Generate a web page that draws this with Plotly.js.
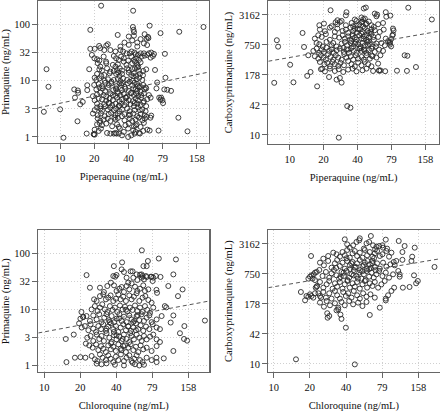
<!DOCTYPE html>
<html>
<head>
<meta charset="utf-8">
<script src="https://cdn.plot.ly/plotly-3.0.1.min.js"></script>
<style>
html,body{margin:0;padding:0;background:#fff;}
#chart{width:440px;height:412px;}
</style>
</head>
<body>
<div id="chart"></div>
<script>
// ---------- tick definitions ----------
const drugTickVals = [10, 19.95, 39.81, 79.43, 158.5];
const drugTickText = ['10', '20', '40', '79', '158'];
const pqTickVals = [1, 3.162, 10, 31.62, 100];
const pqTickText = ['1', '3', '10', '32', '100'];
const cpqTickVals = [10, 42.17, 177.8, 749.9, 3162];
const cpqTickText = ['10', '42', '178', '750', '3162'];

// ---------- data: [drug ng/mL, metabolite ng/mL] ----------
const pipPrimaquine = [
[22.9,215],[43.7,175],[18.4,80],[61,95],[32,65],[43.5,90],[44,80],[44.5,73],[76,70],[111,74],[181,90],[7.6,16],[7.9,7.8],[7.2,2.8],[10,3.1],[10.7,0.97],[14.2,1.9],[13.3,7.0],[14.3,6.7],[14.4,6.1],[13.5,5.0],[15,3.8],[15.8,4.2],[17.3,8.3],[17.3,6.8],[18,16],[17.1,1.15],[19.8,1.12],[131,1.26],[109,2.2],[73,1.3],[61,1.3],[83,30],[84,11.3],[68,15.5],[71,9.3],[82,7],[87,6.9],[94,6.6],[80,4],[77,5],[74,5],[70,7.3],[76,4.6],[79,4.5],[63,2.4],[62,2.2],[58,43],[59,60],[59.5,57],
[18.4,36.8],[20.1,36.8],[22.5,38],[24.4,35],[27.6,35],[30.6,33],[33.8,35],[35.7,33],[38.2,30.6],[40.8,30.6],[42.4,33],[45,31.6],[46,29.4],[48.2,28.7],[50.8,30.6],[54.3,30.6],[60.1,30.6],[63,31.6],[66.6,29.8],
[19,28.7],[20,25],[21.1,24],[22.1,22.8],[24.1,26.8],[25.3,21.8],[29.6,27.5],[31,25],[32.7,23.4],[34.3,26.8],[36.2,25],[39.5,22.8],[42.1,26.8],[44.4,23.4],[46.6,25],[49.2,23.4],[51.9,26.8],[55.1,27.9],[58.2,28.7],[62.2,25.7],[65.2,27.5],
[21.4,20.4],[22.5,17.8],[25.4,20.4],[29,19.1],[30.6,17.8],[32.1,19.6],[36.2,21.8],[38.2,19.1],[42.9,20.4],[45.3,21.8],[47.5,19.1],[48.5,17.8],[50.8,21.2],
[22.1,15.9],[23.3,15.1],[25.8,16.6],[27.6,14.5],[29.6,14.9],[31.6,15.5],[33.4,16.6],[34.9,15.1],[38.7,16.6],[40,15.5],[42.9,16.1],[45.3,16.6],[47.5,17.1],[49.2,15.1],[53.6,14.9],[56.9,15.9],
[20.1,11.3],[21.1,13.2],[23,12.1],[24.4,12.6],[27.2,13.5],[31,13.2],[32.3,13.9],[33.2,12.1],[34.9,13.2],[40,13.9],[42.1,12.6],[44.4,13.5],[46.6,12.1],[50.1,13.2],[53.3,12.5],
[20.8,10.3],[22.1,11],[24.6,10],[26.3,10.6],[28.2,9.6],[29.6,10.3],[32.1,10.7],[33.8,9.85],[35.7,11],[38.7,10.3],[40.8,9.6],[43.5,10],[46.9,10.6],[49.5,11.3],[52.6,10.3],
[19.9,8.4],[21.8,8.7],[23.3,8],[24.9,9.2],[26.7,8.4],[28.2,9],[31.2,8],[33.2,9],[34.5,8.4],[36.7,7.8],[39.2,9],[42.9,8.25],[45,9.2],[47.5,8.7],[50.1,8],[53.6,8.4],[56.2,7.6],
[20.8,7],[22.1,7.6],[23.6,7.3],[24.9,6.6],[26.2,7.5],[29.2,6.8],[31,7.3],[32.1,6.35],[34.9,6.8],[37.4,7.2],[40,6.6],[43.8,7.3],[46,7],[47.5,6.6],[49.2,7.6],[50.8,6.35],[55.1,7],[56.9,7.3],
[19.4,5.3],[21.1,5.7],[22.5,6.1],[24.1,5.55],[25.4,5.2],[27.6,5.95],[30.6,5.4],[32.1,5.95],[33.8,5.5],[36.2,5.8],[38.7,5.2],[42.1,6.1],[44.4,5.55],[46.6,5.95],[48.5,5.3],[51.5,5.55],[54.3,5.95],[60.1,5.55],
[20.1,4.5],[21.8,4.83],[23.3,4.65],[25.4,4.4],[27.2,4.83],[29,4.5],[31.6,5.0],[33.2,4.33],[34.9,4.7],[37.4,5.0],[40,4.5],[43.5,4.33],[46,4.83],[48.2,4.5],[51.5,5],[54.3,4.33],[58.2,4.7],[62.2,5],
[21.1,3.9],[22.5,3.53],[24.4,3.83],[26.7,4.05],[28.6,3.68],[30.6,3.9],[32.7,3.53],[34.3,3.9],[36.7,3.68],[38.2,4.05],[41.5,3.83],[44.4,3.53],[47.5,3.9],[50.8,3.68],[53.6,4.05],[56.9,3.53],
[20.1,3.0],[21.1,3.34],[22.5,3.2],[23.3,2.91],[26.2,3.08],[27.6,3.34],[29.6,3],[31,3.2],[33.2,2.87],[34.9,3.08],[38.7,3.2],[40.8,2.87],[45,3],[48.2,3.34],[52.6,3.08],[56.2,2.87],
[19.4,2.61],[21.4,2.44],[22.8,2.61],[24.6,2.34],[26.7,2.54],[28,2.68],[30.6,2.44],[32.1,2.61],[34.9,2.34],[36.7,2.54],[40,2.44],[43.8,2.61],[47.5,2.34],[50.8,2.54],[55.1,2.44],[57.3,2.28],
[21.4,2.13],[22.5,1.93],[24.1,2.04],[26.2,2.13],[27.6,1.93],[30.6,2.04],[32.1,2.18],[36.7,1.98],[40.8,2.13],[42.9,1.93],[46,2.04],[49.2,2.21],[52.6,1.98],[55.4,2.13],
[21.1,1.68],[22.2,1.78],[23.3,1.62],[25.4,1.73],[28.6,1.55],[31.6,1.68],[32.7,1.51],[37.4,1.62],[40,1.73],[44.4,1.55],[46.9,1.68],[50.8,1.51],[54.3,1.78],
[20.1,1.35],[21.8,1.28],[22.8,1.41],[25.8,1.18],[30.6,1.18],[33.4,1.41],[36.2,1.23],[39.5,1.41],[43.8,1.31],[46,1.23],[49.2,1.18],[53.6,1.28],[58.2,1.35],
[19.7,1.12],[20.1,1.10],[27.6,1.15],[29.6,1.15],[31.2,1.15],[32.7,1.15],[34.9,1.07],[39.5,1.0],[42.1,1.07],[45,1.15],[50.1,1.15],
[40,61],[44.4,63],[55.1,67],[57.3,55.5],[47.5,47.6],[42.9,52],[40,43.3],[33.8,40.4],[26.2,44.4],[25.4,42],[22,41.5],[47.5,40.4],[54.3,46],[36.7,47.6],[50.8,54.8],
[42,6],[45,4],[48,8],[44,12],[38,5],[33,3.6],[30,2.2],[27,4],[41,2.5],[46,1.6],[50,3],[35,9],[31,7],[25,3.5],[29,5.5]
];

const pipCarboxy = [
[112,4470],[181,2540],[47.2,4500],[45.3,4300],[23,3950],[31.8,3600],[31.4,3100],[70.8,3600],[71.6,2900],[77.8,3060],[13,1330],[7.7,940],[7.9,690],[13.4,680],[14.6,457],[10.1,290],[10.8,125],[7.3,122],[14.3,170],[15.3,205],[17.5,103],[19.4,240],[32.3,40],[34.5,37],[27.2,8.8],[89,218],[109,216],[131,260],[104,457],[110,445],[81,1170],[82,1240],[77,830],[77,760],[63.7,220],[61.8,218],[70,213],[82,1640],[83,1500],[79,990],[77,880],[79,700],
[37.7,2540],[43.2,2800],[44.7,2570],[46.2,2655],[56.6,3370],[58.6,2960],[59.4,3210],[26.5,2450],[27.8,2260],
[18.3,1928],[20.1,2085],[23.5,1840],[25.5,2220],[26.4,2020],[28.8,2370],[31.4,1928],[35.3,2150],[36.5,1840],[39,2370],[41.3,2020],[43.2,2220],[44.7,1840],[47.8,2085],[50.2,2300],[52.9,1928],[55.5,1778],[60.6,2020],[67,2150],
[18.5,1565],[20.5,1450],[22.7,1720],[25.1,1400],[26.4,1641],[29.4,1470],[31.4,1565],[32.9,1340],[34.6,1720],[36.5,1470],[37.7,1641],[39.4,1360],[41.8,1565],[44.1,1400],[46.2,1690],[48.8,1470],[50.2,1340],[52.9,1590],[56.6,1517],[62.7,1400],[67.9,1565],
[16.7,1016],[17.9,1192],[19.2,1101],[20.9,1260],[22.7,960],[25.1,1130],[27.4,1065],[29.4,1192],[30.8,1016],[32.9,1130],[34.1,960],[36,1240],[37.7,1065],[39,960],[41.3,1192],[43.2,1016],[45.3,1130],[47.8,960],[50.2,1065],[52.9,1260],[55.5,960],[60.6,1101],[70.8,1016],
[17.3,823],[18.3,775],[19.6,696],[21.2,866],[23.5,735],[24.3,823],[26,696],[28.8,800],[30.8,866],[32.2,735],[34.6,823],[36.5,696],[38.5,866],[40.4,775],[42.4,696],[44.1,823],[46.2,735],[48.8,866],[51.2,775],[54,696],[58.6,800],[64.8,823],[69.4,735],[74.2,900],
[16.2,563],[17.3,629],[18.2,513],[19.2,600],[20.1,536],[21.2,658],[22.3,563],[23.5,609],[24.6,513],[26,581],[27.8,629],[30.2,536],[31.8,600],[33.5,513],[35.3,648],[37,563],[39,513],[41.3,629],[43.2,563],[45.6,600],[47.8,513],[50.2,581],[52.9,629],[56.6,536],[61.8,600],[67,563],
[16.7,436],[17.9,389],[18.9,457],[19.9,409],[20.9,370],[21.9,482],[23,422],[24.3,370],[25.6,457],[26.9,409],[28.8,370],[30.4,482],[31.8,409],[34.6,436],[36.5,370],[38.5,457],[40.4,389],[43.2,422],[45.3,370],[47.8,457],[51.2,389],[54,436],[58.6,409],[63.5,457],
[18.5,332],[20.3,297],[21.5,317],[22.7,269],[24,332],[25.1,297],[26.9,274],[28.2,317],[30.2,283],[32.9,347],[35.3,297],[37.7,269],[40.4,322],[43.2,283],[46.2,332],[49.5,297],[52.9,269],[60.6,306],
[18.9,234],[20.5,211],[22.7,241],[25.1,215],[27.2,234],[29.8,205],[32.9,230],[36,241],[39,211],[44.1,222],[47.8,241],[54.7,215],[61.8,222],
[22.3,161],[27.8,154],[28.8,123],[26,142],
[40,1600],[43,1300],[45,1000],[48,1200],[50,900],[52,1400],[38,800],[42,640],[46,560],[35,900],[33,600],[30,650],[55,1100],[58,700],[47,2000],[44,2300],[39,1900],[36,1150],[49,750],[53,450]
];

const cqPrimaquine = [
[65,115],[90,82],[125,79],[73,74],[67,60],[44.5,70],[38,60],[119,42.7],[85,40],[93,38.5],[22.5,41.5],[24,24.7],[26,15.3],[142,23],[130,17.5],[108,26.5],[86,22.6],[87,20],[101,11.6],[104,11],[119,7.9],[113,5.9],[147,5.1],[135,3.8],[146,3],[155,2.8],[218,6.4],[119,1.83],[99,1.35],[86,1.39],[15.1,3.0],[18,1.39],[15.3,1.16],[20,1.42],[22,1.39],[17.6,3.6],[19.5,5.7],[20,6.9],[21.1,7.4],[20.4,9.1],[22.2,2.48],
[52.4,48.4],[54.4,48.4],[40,41.6],[39,38.8],[62.7,42.2],[64.7,42.7],[65.9,39.9],[70.4,39.9],[71.3,38.3],[78.4,38.8],[80.9,37.3],
[44.1,52.5],[46.1,47.1],[48.5,37.3],[50.1,30.4],[55.2,37.3],[58.8,42.7],[59.6,33.9],[64.7,37.3],[67.7,34.8],[71.3,60],[77.2,38.8],[80,32.5],[37.6,39.9],
[29.1,24.7],[31.4,20.7],[33.5,26.5],[35.9,30.4],[38.1,27.2],[40,21.6],[42.2,23.7],[44.1,25.4],[46.1,20.7],[48.5,26.5],[51.1,23.1],[53.4,29.5],[57,25.7],[59.6,21.6],[62.7,23.7],[66.8,27.2],[69,21.6],[73.6,23.1],
[27.3,14.3],[29.1,17.5],[31,18.8],[32.6,15.3],[34.1,16.4],[35.7,18],[37.6,14.3],[39.5,15.7],[41.4,18.8],[43.3,15.3],[45.5,17.1],[47.9,14.3],[51.1,18],[53.4,15.3],[55.8,17.1],[58.8,19.6],[61.9,14.3],[65.9,16.4],[69.5,17.5],[73.6,14.9],[78.4,13.3],
[24.8,10.1],[26.4,11.6],[27.8,9.5],[29.1,10.9],[30.4,12.5],[32,10.1],[33.5,9.1],[35.2,11.6],[37.1,9.9],[38.8,10.9],[40.6,9.1],[42.7,11.9],[45,10.1],[47,11.3],[49.2,9.3],[51.7,10.9],[54.4,9.9],[57,11.9],[59.6,9.5],[62.7,10.9],[65.9,9.1],[69,11.6],[72.2,9.9],[76,8.8],[80.9,10.9],
[21.1,7.4],[22.5,7.7],[24,6.3],[25.6,7.9],[27.3,6.7],[28.7,8.3],[30,6.0],[31.6,7.2],[33,8.3],[34.6,6.5],[36.4,7.7],[38.3,6.0],[40,6.9],[42.2,8.3],[44.1,6.3],[46.1,7.5],[48.5,6.0],[51.1,7.9],[53.4,6.7],[56.2,6.3],[58.8,7.7],[61.9,6.5],[64.7,8.3],[67.7,6.3],[71.3,7.2],[75,7.9],[78.4,6.0],[86.3,6.7],[95,7.7],
[20.5,4.8],[21.8,5.1],[23.3,4.3],[24.3,5.5],[25.6,4.6],[27,4.0],[28.2,5.1],[29.7,4.5],[31,5.5],[32.6,4.2],[34.1,5.0],[35.9,5.7],[37.6,4.5],[39.5,5.1],[41.4,4.0],[43.3,4.8],[45.5,5.5],[47.9,4.3],[50.1,5.1],[52.7,4.2],[55.2,4.8],[58,5.7],[60.7,4.5],[63.5,5.25],[66.8,4.2],[70.4,5.0],[75,4.5],[80,5.5],[86.3,4.8],[92,4.5],
[22.8,3.16],[24.3,3.4],[25.6,2.76],[27.3,3.6],[28.7,3.0],[30,3.4],[31.4,2.76],[33,3.8],[34.8,3.16],[36.4,2.65],[38.1,3.5],[40,2.95],[42.2,3.3],[44.1,2.76],[46.1,3.6],[48.5,3.0],[51.1,2.65],[53.4,3.4],[55.8,2.95],[58.8,3.6],[61.9,3.16],[64.7,2.76],[67.7,3.4],[71.3,2.95],[76,3.3],[80.9,3.6],[86.3,2.95],[92,2.65],
[23.7,2.3],[25.3,2.1],[27,2.4],[28.2,1.9],[29.7,2.24],[31,2.01],[32.6,1.75],[34.1,2.3],[35.9,1.96],[37.6,2.18],[39.5,1.83],[41.4,2.4],[43.3,2.01],[45.5,2.24],[47.9,1.75],[50.1,2.1],[52.4,2.4],[55.2,1.9],[58,2.18],[60.7,1.75],[63.5,2.3],[66.8,1.96],[71.3,2.1],[78.4,1.83],[86.3,2.24],
[24.8,1.49],[26.4,1.3],[27.7,1.21],[29.1,1.59],[30.6,1.39],[32.6,1.26],[34.1,1.53],[35.7,1.33],[37.6,1.16],[39.5,1.45],[41.4,1.26],[43.5,1.59],[46.1,1.21],[48.5,1.39],[51.1,1.53],[53.4,1.21],[56.2,1.33],[58.8,1.53],[62.7,1.26],[65.9,1.16],[71.3,1.39],[78.4,1.26],[86.3,1.16],
[27.3,1.09],[30,1.06],[33,1.1],[38.8,1.04],[46.1,1.01],[54.4,1.13],[57,1.06],[61.9,1.01],[67.7,1.04],
[40,3.5],[45,3],[50,5],[42,7],[38,4],[55,6],[48,10],[36,2.5],[44,1.9],[52,3.8],[47,2.3],[58,4.3],[35,6],[33,4.6],[60,8]
];

const cqCarboxy = [
[15.3,12.5],[47.1,9.8],[39.7,57],[62.7,105],[27.8,114],[28,92],[28.9,100],[33.2,131],[34.3,137],[35.8,107],[36.5,87],[75.9,149],[85.1,230],[20.4,1778],[64,4640],[51.2,3770],[51.8,4150],[85.1,3890],[109,3650],[122,2870],[148,2650],[117,2150],[141,1720],[117,1480],[139,1400],[216,1050],[146,703],[157,536],[152,480],[134,402],[118,389],[99.8,389],[94.8,332],[88.9,270],[85.1,211],[104,1400],[99,1333],[101,1136],[111,738],[111,659],[108,866],
[16.8,316],[18.2,212],[18.7,261],[19.4,253],[20,283],[20.6,261],[21.3,241],[19.4,600],[20,659],[20.6,703],[21.5,738],[22.7,826],[23.9,908],[21,600],[22,560],[22.3,389],[23.5,297],[24.7,241],[22.9,422],
[40.7,3110],[42.8,2650],[45.6,2970],[48.6,3480],[56,2530],[58.9,3260],[61.9,3480],[66.8,2970],[69.4,2450],[71.2,2780],[74.9,2870],[79.8,2970],[80.8,2650],[87.3,2530],[38.9,3950],
[25.8,1565],[28.3,1778],[31.2,2085],[33.2,1930],[35.4,1720],[37.2,2150],[38.9,1840],[40.7,2370],[42.8,1640],[45.1,2020],[47.1,2260],[49.2,1778],[51.8,2085],[54.5,1640],[57,2370],[59.6,1840],[62.7,2150],[66,1720],[69,2020],[72.1,2260],[75.9,1778],[79.8,1930],[86.1,2260],[90.6,1720],[94.8,2085],
[24.2,1292],[26.1,1136],[28.3,1400],[30.2,1016],[32.2,1250],[33.6,1470],[35.4,1101],[37.2,1292],[38.9,968],[40.7,1400],[42.8,1136],[45.1,1333],[47.1,1016],[49.2,1250],[51.8,1470],[54.5,1101],[57,1292],[59.6,968],[62.7,1192],[66,1400],[69,1066],[72.1,1250],[75.9,968],[80.8,1292],[86.1,1066],[93,1192],
[22,800],[25.4,681],[27.1,826],[28.9,629],[30.2,775],[31.6,908],[33.2,703],[34.9,600],[36.5,826],[38.2,681],[40.2,866],[42.3,629],[44.2,738],[46.2,908],[48.6,681],[51.2,800],[53.5,600],[56,738],[58.9,866],[61.9,659],[64.8,800],[67.6,629],[71.2,738],[74.9,866],[79.8,681],[85.1,800],[90.6,629],[97.8,738],
[22.7,408],[24.2,511],[25.8,389],[27.5,457],[28.9,536],[30.8,371],[32.2,480],[33.6,408],[35.4,511],[37.2,371],[38.9,457],[41,536],[42.8,389],[45.1,480],[47.1,408],[49.2,511],[51.8,371],[54.5,457],[57,536],[59.6,389],[62.7,480],[66,422],[69,511],[73.5,389],[78.3,457],[83.4,536],
[22,297],[24.2,261],[25.8,316],[27.1,241],[28.9,297],[30.2,230],[32.2,332],[33.6,270],[35.4,230],[37.7,316],[39.7,261],[41.5,297],[44.2,241],[46.2,332],[49.2,270],[51.8,230],[55.2,297],[58.9,253],[63.5,283],[69,241],
[24.2,190],[26.1,156],[27.5,205],[29.3,167],[32.2,184],[34.3,149],[36.5,196],[38.9,167],[42.3,205],[45.6,175],[50.2,190],[54.5,161],[58.9,196],
[40.2,1600],[44,1250],[48,1050],[52,900],[56,1150],[60,1400],[64,1000],[46,700],[50,600],[54,850],[58,560],[62,950],[66,1250],[70,900],[43,950],[38,800],[36,650],[33,1000],[41,560],[68,1600]
];

// ---------- dashed fitted lines (endpoints at the panel edges) ----------
const fitPipPqX = [6.43, 202.3],  fitPipPqY = [3.30, 14.26];
const fitPipCpqX = [6.47, 209.4], fitPipCpqY = [343, 1445];
const fitCqPqX = [8.91, 237],     fitCqPqY = [3.84, 14.3];
const fitCqCpqX = [9.02, 237.7],  fitCqCpqY = [389, 1549];

const FONT = 'Liberation Serif';
const markerStyle = {symbol: 'circle-open', size: 5, color: '#2a2a2a', line: {width: 0.9, color: '#2a2a2a'}};

function pts(arr, xa, ya) {
  return {type: 'scatter', mode: 'markers', x: arr.map(p => p[0]), y: arr.map(p => p[1]),
          xaxis: xa, yaxis: ya, marker: markerStyle, hoverinfo: 'skip', showlegend: false};
}
function fit(xs, ys, xa, ya) {
  return {type: 'scatter', mode: 'lines', x: xs, y: ys, xaxis: xa, yaxis: ya,
          line: {color: '#555', width: 1, dash: '4px,3px'}, hoverinfo: 'skip', showlegend: false};
}

const traces = [
  pts(pipPrimaquine, 'x', 'y'),  fit(fitPipPqX, fitPipPqY, 'x', 'y'),
  pts(pipCarboxy, 'x2', 'y2'),   fit(fitPipCpqX, fitPipCpqY, 'x2', 'y2'),
  pts(cqPrimaquine, 'x3', 'y3'), fit(fitCqPqX, fitCqPqY, 'x3', 'y3'),
  pts(cqCarboxy, 'x4', 'y4'),    fit(fitCqCpqX, fitCqCpqY, 'x4', 'y4')
];

function axisBase(extra) {
  return Object.assign({
    type: 'log', showline: true, mirror: true, linecolor: '#666', linewidth: 1.3,
    ticks: 'outside', ticklen: 5, tickwidth: 1, tickcolor: '#666',
    showgrid: true, gridcolor: '#d0d0d0', griddash: '1px,2px', gridwidth: 1,
    zeroline: false, tickmode: 'array',
    tickfont: {family: FONT, size: 10.5, color: '#111'},
    automargin: false, fixedrange: true
  }, extra);
}
function xTitle(t) { return {text: t, font: {family: FONT, size: 10.5, color: '#111'}, standoff: 9}; }
function yTitle(t) { return {text: t, font: {family: FONT, size: 10.5, color: '#111'}, standoff: 4}; }

const layout = {
  width: 440, height: 412,
  margin: {l: 0, r: 0, t: 0, b: 0, pad: 0},
  paper_bgcolor: '#fff', plot_bgcolor: '#fff',
  font: {family: FONT},
  showlegend: false,
  xaxis: axisBase({domain: [0.0870, 0.4750], range: [0.8085, 2.306], tickvals: drugTickVals, ticktext: drugTickText, anchor: 'y', title: xTitle('Piperaquine (ng/mL)')}),
  yaxis: axisBase({domain: [0.6529, 0.9976], range: [-0.107, 2.416], tickvals: pqTickVals, ticktext: pqTickText, anchor: 'x', title: yTitle('Primaquine (ng/mL)')}),
  xaxis2: axisBase({domain: [0.6098, 0.9977], range: [0.811, 2.321], tickvals: drugTickVals, ticktext: drugTickText, anchor: 'y2', title: xTitle('Piperaquine (ng/mL)')}),
  yaxis2: axisBase({domain: [0.6505, 0.9976], range: [0.8125, 3.79], tickvals: cpqTickVals, ticktext: cpqTickText, anchor: 'x2', title: yTitle('Carboxyprimaquine (ng/mL)')}),
  xaxis3: axisBase({domain: [0.0870, 0.4757], range: [0.95, 2.375], tickvals: drugTickVals, ticktext: drugTickText, anchor: 'y3', title: xTitle('Chloroquine (ng/mL)')}),
  yaxis3: axisBase({domain: [0.0971, 0.4410], range: [-0.1125, 2.418], tickvals: pqTickVals, ticktext: pqTickText, anchor: 'x3', title: yTitle('Primaquine (ng/mL)')}),
  xaxis4: axisBase({domain: [0.6098, 0.9989], range: [0.955, 2.376], tickvals: drugTickVals, ticktext: drugTickText, anchor: 'y4', title: xTitle('Chloroquine (ng/mL)')}),
  yaxis4: axisBase({domain: [0.0971, 0.4410], range: [0.833, 3.785], tickvals: cpqTickVals, ticktext: cpqTickText, anchor: 'x4', title: yTitle('Carboxyprimaquine (ng/mL)')})
};

Plotly.newPlot('chart', traces, layout, {displayModeBar: false, staticPlot: true});
</script>
</body>
</html>
